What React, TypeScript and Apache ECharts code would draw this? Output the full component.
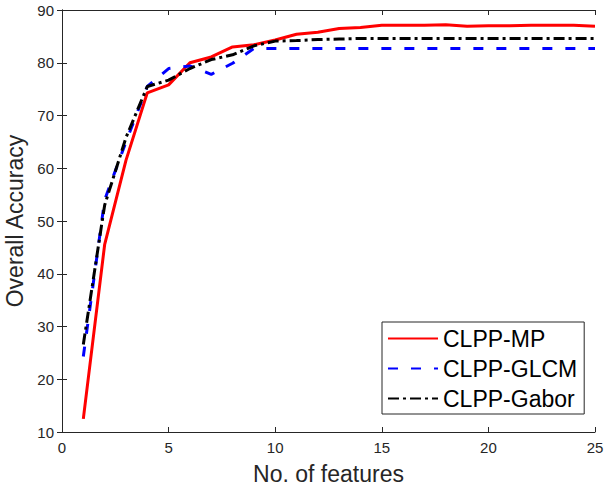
import React, { useEffect, useRef } from "react";
import * as echarts from "echarts";

const features = [1, 2, 3, 4, 5, 6, 7, 8, 9, 10, 11, 12, 13, 14, 15, 16, 17, 18, 19, 20, 21, 22, 23, 24, 25];
const clppMP = [12.5, 45.5, 61.5, 74.3, 75.8, 80.0, 81.1, 83.0, 83.4, 84.3, 85.4, 85.8, 86.5, 86.7, 87.1, 87.1, 87.1, 87.2, 86.9, 87.0, 87.0, 87.1, 87.1, 87.1, 86.9];
const clppGLCM = [24.3, 54.0, 65.0, 75.5, 78.9, 79.4, 77.8, 79.9, 82.7, 82.7, 82.7, 82.7, 82.7, 82.7, 82.7, 82.7, 82.7, 82.7, 82.7, 82.7, 82.7, 82.7, 82.7, 82.7, 82.7];
const clppGabor = [26.6, 53.0, 65.8, 75.5, 76.7, 78.9, 80.6, 81.5, 83.2, 84.1, 84.2, 84.4, 84.5, 84.6, 84.6, 84.6, 84.6, 84.6, 84.6, 84.6, 84.6, 84.6, 84.6, 84.6, 84.6];
const seriesNames = ["CLPP-MP", "CLPP-GLCM", "CLPP-Gabor"];

const AXIS_COLOR = "#262626";
const FONT = "Liberation Sans, Arial, sans-serif";

export default function App() {
  const ref = useRef<HTMLDivElement>(null);
  useEffect(() => {
    if (!ref.current) return;
    const chart = echarts.init(ref.current, undefined, { renderer: "svg" });
    const pairs = (vals: number[]) => features.map((f, i) => [f, vals[i]]);
    const axisCommon = {
      axisLine: { show: true, lineStyle: { color: AXIS_COLOR, width: 1 } },
      axisTick: { show: true, inside: true, length: 5, lineStyle: { color: AXIS_COLOR } },
      splitLine: { show: false },
    };
    chart.setOption({
      animation: false,
      backgroundColor: "#ffffff",
      textStyle: { fontFamily: FONT },
      grid: { left: 62, right: 9, top: 10, bottom: 58, containLabel: false, outerBoundsMode: "none" },
      legend: {
        orient: "vertical",
        left: 382,
        top: 322,
        padding: [5, 7, 4, 5],
        itemGap: 7,
        itemWidth: 50,
        itemHeight: 14,
        backgroundColor: "#ffffff",
        borderColor: AXIS_COLOR,
        borderWidth: 1,
        borderRadius: 0,
        itemStyle: { opacity: 0 },
        textStyle: { fontSize: 23, color: "#000000", fontFamily: FONT, padding: [0, 0, 0, 0] },
        data: seriesNames,
      },
      xAxis: [
        {
          type: "value",
          min: 0,
          max: 25,
          interval: 5,
          position: "bottom",
          name: "No. of features",
          nameLocation: "middle",
          nameGap: 30,
          nameTextStyle: { fontSize: 23, color: AXIS_COLOR, fontFamily: FONT },
          axisLabel: { fontSize: 15, color: AXIS_COLOR, margin: 8, fontFamily: FONT },
          ...axisCommon,
        },
        {
          type: "value",
          min: 0,
          max: 25,
          interval: 5,
          position: "top",
          axisLabel: { show: false },
          ...axisCommon,
        },
      ],
      yAxis: [
        {
          type: "value",
          min: 10,
          max: 90,
          interval: 10,
          position: "left",
          name: "Overall Accuracy",
          nameLocation: "middle",
          nameGap: 32,
          nameTextStyle: { fontSize: 23, color: AXIS_COLOR, fontFamily: FONT },
          axisLabel: { fontSize: 15, color: AXIS_COLOR, margin: 8, fontFamily: FONT },
          ...axisCommon,
        },
        {
          type: "value",
          min: 10,
          max: 90,
          interval: 10,
          position: "right",
          axisLabel: { show: false },
          ...axisCommon,
        },
      ],
      series: [
        {
          name: seriesNames[0],
          type: "line",
          data: pairs(clppMP),
          symbol: "none",
          lineStyle: { color: "#ff0000", width: 3, type: "solid" },
          itemStyle: { color: "#ff0000" },
          z: 3,
        },
        {
          name: seriesNames[1],
          type: "line",
          data: pairs(clppGLCM),
          symbol: "none",
          lineStyle: { color: "#0000ff", width: 3, type: [10, 13] },
          itemStyle: { color: "#0000ff" },
          z: 4,
        },
        {
          name: seriesNames[2],
          type: "line",
          data: pairs(clppGabor),
          symbol: "none",
          lineStyle: { color: "#000000", width: 3, type: [11, 4, 3, 4] },
          itemStyle: { color: "#000000" },
          z: 5,
        },
      ],
    });
    return () => chart.dispose();
  }, []);
  return (
    <div
      ref={ref}
      style={{ position: "fixed", left: 0, top: 0, width: 604, height: 490 }}
    />
  );
}
